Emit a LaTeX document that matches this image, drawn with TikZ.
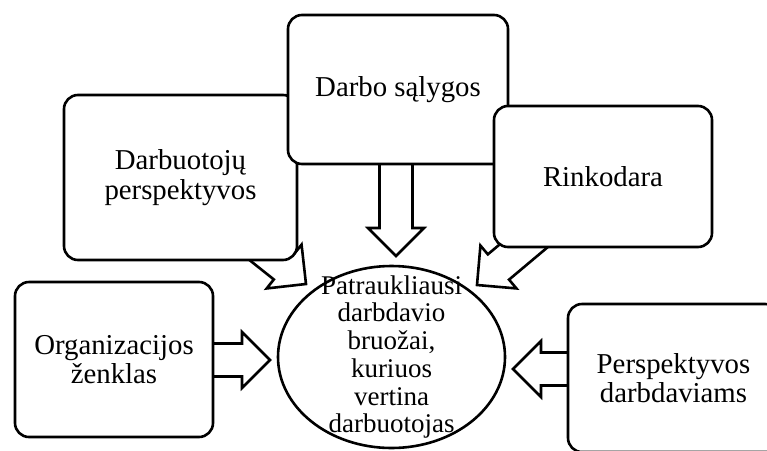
\documentclass[tikz,border=0pt]{standalone}
\usepackage{fontspec}
\setmainfont{Liberation Serif}
\usetikzlibrary{calc,shapes.geometric}

\tikzset{
  stroke/.style={draw=black, line width=2.6pt},
  factorbox/.style={stroke, fill=white, rectangle, rounded corners=14pt,
    inner sep=0pt, align=center,
    font=\fontsize{28.8}{29.5}\selectfont},
  corebox/.style={stroke, fill=white, ellipse, inner sep=0pt},
  coretext/.style={align=center, inner sep=0pt,
    font=\fontsize{27}{27.7}\selectfont},
  blockarrowstyle/.style={stroke, fill=white, line join=miter},
}

% hollow block arrow from #1 (tail) to #2 (tip)
\newcommand\blockarrow[2]{%
  \coordinate (#1 base) at ($(#2)!28pt!(#1)$);
  \draw[blockarrowstyle]
    ($(#1)!16.5pt!90:(#2)$) -- ($(#1 base)!16.5pt!90:(#2)$)
    -- ($(#1 base)!28pt!90:(#2)$) -- (#2)
    -- ($(#1 base)!28pt!-90:(#2)$) -- ($(#1 base)!16.5pt!-90:(#2)$)
    -- ($(#1)!16.5pt!-90:(#2)$) -- cycle;}

\begin{document}
\begin{tikzpicture}[x=1pt, y=-1pt]
  \path[use as bounding box, clip] (0,0) rectangle (767,450);

  % arrow ends
  \coordinate (tailA) at (237,229);  \coordinate (tipA) at (306,284);
  \coordinate (tailB) at (396,140);  \coordinate (tipB) at (396,256);
  \coordinate (tailC) at (552,222);  \coordinate (tipC) at (477,285);
  \coordinate (tailD) at (190,360);  \coordinate (tipD) at (270,360);
  \coordinate (tailE) at (600,369);  \coordinate (tipE) at (513,369);

  \blockarrow{tailA}{tipA}
  \blockarrow{tailB}{tipB}
  \blockarrow{tailC}{tipC}
  \blockarrow{tailD}{tipD}
  \blockarrow{tailE}{tipE}

  % factor boxes
  \node[factorbox, minimum width=233pt, minimum height=165pt]
    (persp) at (180.5,177.5) {Darbuotojų\\perspektyvos};
  \node[factorbox, minimum width=220pt, minimum height=149pt]
    (cond) at (398,89.5) {Darbo sąlygos};
  \node[factorbox, minimum width=218pt, minimum height=141pt]
    (mkt) at (603,176.5) {Rinkodara};
  \node[factorbox, minimum width=198pt, minimum height=155pt]
    (brand) at (114,359.5) {Organizacijos\\ženklas};
  \node[factorbox, minimum width=211pt, minimum height=148pt]
    (empl) at (673.5,378) {Perspektyvos\\darbdaviams};

  % central ellipse
  \node[corebox, minimum width=227pt, minimum height=182pt,
    label={[coretext]center:Patraukliausi\\darbdavio\\bruožai,\\kuriuos\\vertina\\darbuotojas}]
    (core) at (391.5,357) {};
\end{tikzpicture}
\end{document}
